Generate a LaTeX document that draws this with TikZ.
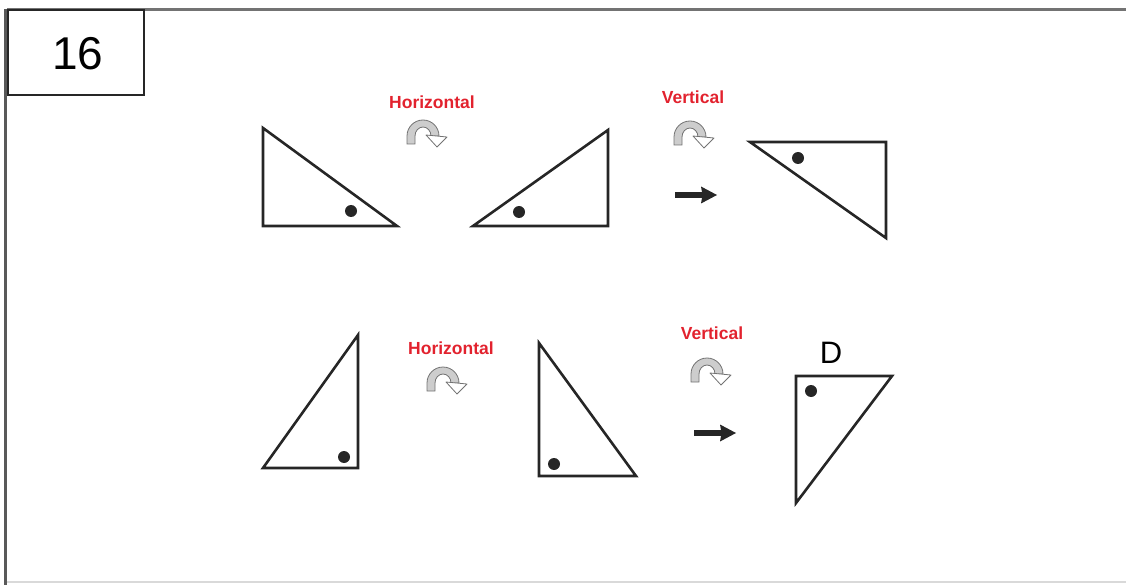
\documentclass[tikz,border=0pt]{standalone}
\usepackage{fontspec}
\setmainfont{Liberation Sans}
\definecolor{labred}{RGB}{226,34,46}
\definecolor{icongray}{RGB}{205,205,205}
\tikzset{
  x=1pt, y=-1pt,
  tri/.style={draw=black!85, line width=2.6pt, line join=miter},
  dotmark/.style={circle, fill=black!85, inner sep=0pt, minimum size=12pt},
  lab/.style={text=labred, font=\fontsize{17.5}{20}\selectfont\bfseries, inner sep=0pt},
  pics/flipicon/.style={code={
    \path[fill=icongray, draw=black!55, line width=0.8pt]
      (-15,8) -- (-15,0) arc[start angle=180, end angle=360, x radius=16, y radius=16]
      -- (9,0) arc[start angle=360, end angle=180, x radius=8, y radius=9] -- (-7,8) -- cycle;
    \path[fill=white, draw=black!55, line width=0.8pt, line join=round]
      (4,-1) -- (25,1) -- (15,11) -- cycle;
  }},
  pics/fatarrow/.style={code={
    \fill[black!85] (0,-2.8) -- (27,-2.8) -- (26,-8.5) -- (42,0) -- (26,8.5) -- (27,2.8) -- (0,2.8) -- cycle;
  }}
}
\begin{document}
\begin{tikzpicture}
\useasboundingbox (0,0) rectangle (1126,585);
% frame
\draw[black!55, line width=3pt] (7,9.5) -- (1126,9.5);
\draw[black!65, line width=3pt] (5.5,9) -- (5.5,585);
\draw[black!15, line width=1.5pt] (7,582) -- (1126,582);
% number box
\draw[black!85, line width=2pt, fill=white] (7.5,10) rectangle (144,95.5);
\node[font=\fontsize{46}{50}\selectfont, inner sep=0pt] (num) at (78,54) {16};

% ---------- top row ----------
\draw[tri] (263,128) -- (263,226) -- (397,226) -- cycle;
\node[dotmark] (d1) at (351,211) {};
\node[lab] (h1) at (432,102) {Horizontal};
\pic at (422,136) {flipicon};
\draw[tri] (473,226) -- (608,130) -- (608,226) -- cycle;
\node[dotmark] (d2) at (519,212) {};
\node[lab] (v1) at (693,97) {Vertical};
\pic at (689,137) {flipicon};
\pic at (675,195) {fatarrow};
\draw[tri] (750,142) -- (886,142) -- (886,238) -- cycle;
\node[dotmark] (d3) at (798,158) {};

% ---------- bottom row ----------
\draw[tri] (263,468) -- (358,335) -- (358,468) -- cycle;
\node[dotmark] (d4) at (344,457) {};
\node[lab] (h2) at (451,348) {Horizontal};
\pic at (442,383) {flipicon};
\draw[tri] (539,343) -- (539,476) -- (636,476) -- cycle;
\node[dotmark] (d5) at (554,464) {};
\node[lab] (v2) at (712,333) {Vertical};
\pic at (706,374) {flipicon};
\pic at (694,433) {fatarrow};
\node[font=\fontsize{31}{34}\selectfont, inner sep=0pt] (dlab) at (831,353) {D};
\draw[tri] (796,376) -- (892,376) -- (796,503) -- cycle;
\node[dotmark] (d6) at (811,391) {};
\end{tikzpicture}
\end{document}
